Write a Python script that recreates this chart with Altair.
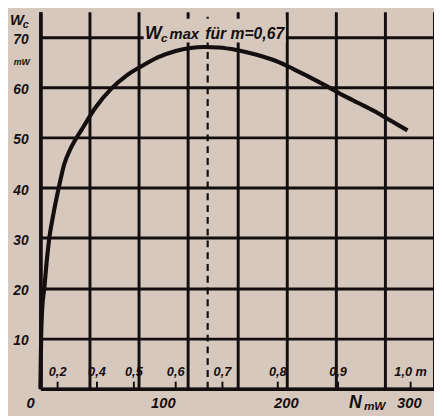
import altair as alt
import pandas as pd

# ---- data ----
N_vals = [0, 0.6, 1.5, 3.2, 5, 7.2, 10, 15.2, 19.2, 25, 33.7, 45, 57.7, 70, 84.7, 95.4,
          110, 122, 133, 145, 159.5, 175, 191.6, 205, 218, 232, 245, 258, 271.7, 285, 298.4]
Wc_vals = [0, 10, 16, 20, 25, 29.9, 34, 40.3, 44.5, 48, 51.6, 56, 59.7, 62.3, 64.5, 65.9,
           67.2, 67.8, 68, 67.9, 67.4, 66.5, 65.2, 63.7, 62.1, 60.3, 58.5, 56.9, 55.2, 53.3, 51.4]
m_labels = ["0,2", "0,4", "0,5", "0,6", "0,7", "0,8", "0,9", "1,0 m"]
m_N = [14, 46, 76, 110, 148, 193, 242, 301]
peak_N = [136]
x_labels = [100, 200, 300]
y_labels = [10, 20, 30, 40, 50, 60, 70]

BG = "#d7c8bd"
INK = "#140e0f"
FONT = "Liberation Sans Narrow, Liberation Sans, Arial, sans-serif"
W_PX, H_PX = 401, 384

xs = alt.Scale(domain=[0, 320], nice=False, zero=False)
ys = alt.Scale(domain=[0, 75], nice=False, zero=False)

curve_df = pd.DataFrame({"N": N_vals, "W": Wc_vals})
m_df = pd.DataFrame({"m": m_labels, "N": m_N})
peak_df = pd.DataFrame({"N": peak_N})
xl_df = pd.DataFrame({"v": x_labels})
yl_df = pd.DataFrame({"v": y_labels})

x_axis = alt.Axis(
    values=list(range(0, 321, 20)), grid=True, ticks=False, labels=False, title=None,
    domainColor=INK, domainWidth=3.6, gridColor=INK, gridWidth=3, gridOpacity=1,
)
y_axis = alt.Axis(
    values=list(range(0, 76, 5)), grid=True, ticks=False, labels=False, title=None,
    domainColor=INK, domainWidth=3.6, gridColor=INK, gridWidth=3, gridOpacity=1,
)

curve = alt.Chart(curve_df).mark_line(color=INK, strokeWidth=4.2, interpolate="monotone").encode(
    x=alt.X("N:Q", scale=xs, axis=x_axis),
    y=alt.Y("W:Q", scale=ys, axis=y_axis),
)

peak_line = alt.Chart(peak_df).mark_rule(color=INK, strokeWidth=2.2, strokeDash=[7, 5]).encode(
    x=alt.X("N:Q", scale=xs),
    y=alt.datum(0, scale=ys),
    y2=alt.datum(75),
)

m_ticks = alt.Chart(m_df).mark_rule(color=INK, strokeWidth=2).encode(
    x=alt.X("N:Q", scale=xs),
    y=alt.datum(0, scale=ys),
    y2=alt.datum(1.4),
)

TXT = dict(font=FONT, fontWeight="bold", fontStyle="italic", color=INK)

m_text = alt.Chart(m_df).mark_text(fontSize=13, align="center", baseline="middle", **TXT).encode(
    x=alt.X("N:Q", scale=xs),
    y=alt.datum(3.3, scale=ys),
    text="m:N",
)

x_text = alt.Chart(xl_df).mark_text(fontSize=15, align="center", baseline="top", **TXT).encode(
    x=alt.X("v:Q", scale=xs),
    y=alt.value(H_PX + 8),
    text="v:Q",
)
y_text = alt.Chart(yl_df).mark_text(fontSize=14, align="right", baseline="middle", **TXT).encode(
    x=alt.value(-12),
    y=alt.Y("v:Q", scale=ys),
    text="v:Q",
    yOffset=alt.value(3),
)

one = pd.DataFrame({"k": [0]})

label_box = alt.Chart(one).mark_rect(color=BG).encode(
    x=alt.datum(84, scale=xs), x2=alt.datum(199.5),
    y=alt.datum(68.9, scale=ys), y2=alt.datum(73.6),
)


def txt_d(s, xv, yv, size, align="left", baseline="alphabetic"):
    return alt.Chart(one).mark_text(text=s, fontSize=size, align=align, baseline=baseline, **TXT).encode(
        x=alt.datum(xv, scale=xs), y=alt.datum(yv, scale=ys))


def txt_p(s, xv, yv, size, align="left", baseline="alphabetic"):
    return alt.Chart(one).mark_text(text=s, fontSize=size, align=align, baseline=baseline, **TXT).encode(
        x=alt.value(xv), y=alt.value(yv))


def txt_xp(s, xv, ypx, size, align="left", baseline="alphabetic"):
    return alt.Chart(one).mark_text(text=s, fontSize=size, align=align, baseline=baseline, **TXT).encode(
        x=alt.datum(xv, scale=xs), y=alt.value(ypx))


ann = [
    label_box,
    txt_d("W", 85, 69.6, 18),
    txt_d("c", 98, 68.9, 12),
    txt_d("max", 105, 69.6, 15),
    txt_d("für m=0,67", 134, 69.6, 16),
    # top-left axis title
    txt_p("W", -31, 1, 15, baseline="top"),
    txt_p("c", -18, 17, 11),
    txt_p("mW", -19, 54, 9, align="center"),
    # bottom
    txt_p("0", -10, H_PX + 8, 15, align="center", baseline="top"),
    txt_xp("N", 256, H_PX + 6, 18, align="center", baseline="top"),
    txt_xp("mW", 263, H_PX + 13, 12, align="left", baseline="top"),
]

chart = alt.layer(curve, peak_line, m_ticks, m_text, x_text, y_text, *ann).properties(
    width=W_PX, height=H_PX,
    autosize=alt.AutoSizeParams(type="none"),
    padding={"left": 33, "top": 0, "right": 0, "bottom": 24},
    background=BG,
).configure_view(stroke=None)

chart.save("out.html", embed_options={"renderer": "svg", "actions": False})
